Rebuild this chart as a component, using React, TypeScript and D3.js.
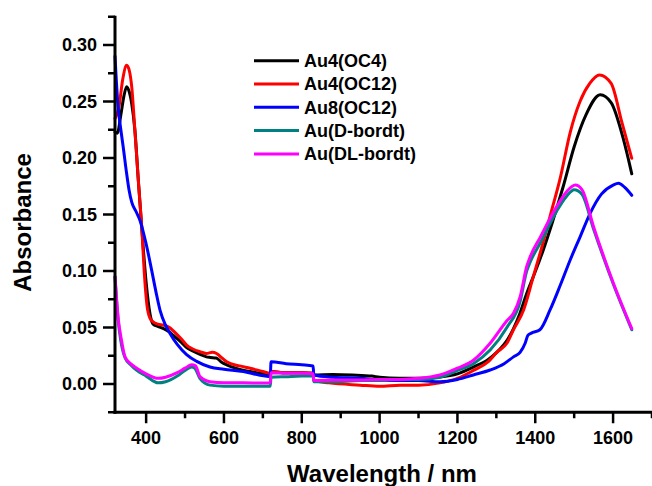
import React from "react";
import * as d3 from "d3";

const seriesNames = ["Au4(OC4)", "Au4(OC12)", "Au8(OC12)", "Au(D-bordt)", "Au(DL-bordt)"];
const seriesColors = ["#000000", "#ff0000", "#0000ff", "#008080", "#ff00ff"];

const xTicks = [400, 600, 800, 1000, 1200, 1400, 1600];
const yTicks = [0.0, 0.05, 0.1, 0.15, 0.2, 0.25, 0.3];

// Au4(OC4)
const blackW = [320, 326, 335, 343, 350, 357, 363, 371, 380, 389, 400, 410, 418, 430, 445, 460, 470, 490, 505, 521, 540, 555, 565, 580, 595, 607, 630, 667, 700, 719, 721, 760, 800, 829, 831, 880, 930, 980, 1000, 1050, 1100, 1150, 1200, 1241, 1280, 1301, 1330, 1344, 1360, 1378, 1395, 1420, 1443, 1472, 1500, 1530, 1567, 1595, 1627, 1648];
const blackV = [0.223, 0.222, 0.238, 0.255, 0.263, 0.258, 0.248, 0.225, 0.18, 0.137, 0.09, 0.062, 0.053, 0.051, 0.049, 0.046, 0.043, 0.037, 0.032, 0.029, 0.026, 0.024, 0.0235, 0.023, 0.019, 0.017, 0.014, 0.011, 0.009, 0.008, 0.011, 0.010, 0.010, 0.0095, 0.008, 0.0085, 0.008, 0.007, 0.006, 0.005, 0.005, 0.006, 0.009, 0.015, 0.022, 0.028, 0.04, 0.049, 0.062, 0.08, 0.095, 0.118, 0.142, 0.175, 0.21, 0.238, 0.256, 0.249, 0.216, 0.186];

// Au4(OC12)
const redW = [320, 330, 340, 350, 357, 363, 371, 380, 389, 395, 402, 410, 418, 430, 445, 460, 470, 490, 504, 520, 538, 555, 570, 581, 595, 607, 640, 667, 700, 719, 721, 760, 800, 829, 831, 870, 950, 1000, 1053, 1100, 1155, 1200, 1241, 1280, 1301, 1327, 1344, 1370, 1395, 1420, 1440, 1464, 1490, 1515, 1540, 1565, 1595, 1623, 1648];
const redV = [0.235, 0.245, 0.27, 0.282, 0.277, 0.263, 0.225, 0.18, 0.137, 0.1, 0.07, 0.058, 0.055, 0.053, 0.052, 0.05, 0.047, 0.04, 0.0345, 0.031, 0.0286, 0.027, 0.028, 0.027, 0.023, 0.0197, 0.016, 0.014, 0.011, 0.0095, 0.011, 0.010, 0.010, 0.0095, 0.003, 0.001, -0.001, -0.002, -0.001, -0.001, 0.001, 0.005, 0.012, 0.02, 0.028, 0.036, 0.048, 0.0655, 0.095, 0.125, 0.151, 0.182, 0.223, 0.25, 0.266, 0.2735, 0.266, 0.231, 0.1997];

// Au8(OC12)
const blueW = [320, 328, 335, 341, 350, 356, 363, 375, 384, 400, 414, 425, 436, 450, 461, 480, 504, 530, 564, 600, 650, 690, 719, 721, 760, 800, 829, 831, 880, 950, 1001, 1050, 1100, 1155, 1200, 1241, 1284, 1320, 1344, 1361, 1374, 1381, 1390, 1412, 1438, 1465, 1490, 1515, 1541, 1570, 1600, 1614, 1630, 1648];
const blueV = [0.29, 0.245, 0.225, 0.21, 0.186, 0.172, 0.161, 0.152, 0.145, 0.124, 0.101, 0.082, 0.065, 0.052, 0.045, 0.035, 0.026, 0.02, 0.015, 0.013, 0.011, 0.008, 0.0065, 0.0197, 0.018, 0.017, 0.016, 0.008, 0.006, 0.005, 0.0035, 0.003, 0.003, 0.002, 0.004, 0.008, 0.0124, 0.018, 0.024, 0.028, 0.036, 0.043, 0.045, 0.048, 0.0655, 0.088, 0.11, 0.13, 0.151, 0.168, 0.176, 0.1776, 0.174, 0.167];

// Au(D-bordt)
const tealW = [320, 324, 328, 335, 346, 360, 376, 400, 431, 450, 480, 500, 517, 525, 538, 564, 600, 650, 700, 719, 721, 760, 800, 829, 831, 880, 950, 1000, 1050, 1100, 1155, 1200, 1241, 1284, 1327, 1361, 1378, 1387, 1413, 1455, 1480, 1500, 1520, 1550, 1601, 1648];
const tealV = [0.095, 0.075, 0.057, 0.038, 0.023, 0.017, 0.012, 0.007, 0.001, 0.002, 0.007, 0.012, 0.015, 0.014, 0.005, -0.001, -0.002, -0.002, -0.002, -0.002, 0.006, 0.0065, 0.007, 0.007, 0.002, 0.002, 0.003, 0.003, 0.004, 0.004, 0.006, 0.012, 0.018, 0.03, 0.05, 0.073, 0.1, 0.108, 0.125, 0.153, 0.166, 0.172, 0.168, 0.137, 0.088, 0.048];

// Au(DL-bordt)
const magW = [320, 324, 328.6, 336, 345.7, 360, 375.8, 400, 431, 450, 480, 500, 517, 527, 538.5, 564, 600, 650, 700, 719, 721, 760, 800, 829, 831, 880, 950, 1000, 1050, 1100, 1155, 1200, 1241, 1284, 1327, 1344, 1361, 1378, 1387, 1413, 1455, 1480, 1503, 1520, 1550, 1601, 1648];
const magV = [0.095, 0.075, 0.057, 0.04, 0.024, 0.018, 0.014, 0.009, 0.005, 0.006, 0.01, 0.014, 0.017, 0.016, 0.0065, 0.002, 0.001, 0.001, 0.0008, 0.0008, 0.010, 0.0095, 0.0095, 0.009, 0.003, 0.0035, 0.0035, 0.004, 0.004, 0.005, 0.008, 0.014, 0.021, 0.036, 0.056, 0.0626, 0.077, 0.104, 0.1127, 0.13, 0.157, 0.17, 0.176, 0.172, 0.139, 0.089, 0.049];

const seriesW = [blackW, redW, blueW, tealW, magW];
const seriesV = [blackV, redV, blueV, tealV, magV];

const W = 652;
const H = 486;
const left = 115;
const right = 652;
const top = 16.75;
const bottom = 412.25;

export default function App() {
  const x = d3.scaleLinear().domain([320, 1700]).range([left, right]);
  const y = d3.scaleLinear().domain([-0.025, 0.325]).range([bottom, top]);
  const line = d3
    .line<[number, number]>()
    .x((d) => x(d[0]))
    .y((d) => y(d[1]))
    .curve(d3.curveMonotoneX);

  const font = "Arial, 'Liberation Sans', sans-serif";
  const xMinor = d3.range(500, 1701, 200);
  const yMinor = d3.range(-0.025, 0.326, 0.05);

  return (
    <svg width={W} height={H} style={{ position: "absolute", left: 0, top: 0, background: "#fff" }}>
      <rect x={0} y={0} width={W} height={H} fill="#fff" />
      <g fill="none" strokeLinejoin="round" strokeLinecap="round">
        {seriesW.map((ws, i) => (
          <path
            key={i}
            d={line(ws.map((w, j) => [w, seriesV[i][j]] as [number, number])) || ""}
            stroke={seriesColors[i]}
            strokeWidth={3}
          />
        ))}
      </g>
      {/* axes */}
      <line x1={left} x2={left} y1={top - 1} y2={bottom + 1.5} stroke="#000" strokeWidth={3} />
      <line x1={left - 1.5} x2={right} y1={bottom} y2={bottom} stroke="#000" strokeWidth={3} />
      {yTicks.map((t) => (
        <g key={t}>
          <line x1={left - 12} x2={left} y1={y(t)} y2={y(t)} stroke="#000" strokeWidth={2.5} />
          <text x={left - 18} y={y(t)} dy="0.35em" textAnchor="end" fontFamily={font} fontWeight="bold" fontSize={18}>
            {t.toFixed(2)}
          </text>
        </g>
      ))}
      {yMinor.map((t) => (
        <line key={t} x1={left - 7} x2={left} y1={y(t)} y2={y(t)} stroke="#000" strokeWidth={2.5} />
      ))}
      {xTicks.map((t) => (
        <g key={t}>
          <line x1={x(t)} x2={x(t)} y1={bottom} y2={bottom + 11} stroke="#000" strokeWidth={2.5} />
          <text x={x(t)} y={444} textAnchor="middle" fontFamily={font} fontWeight="bold" fontSize={18}>
            {t}
          </text>
        </g>
      ))}
      {xMinor.map((t) => (
        <line key={t} x1={x(t)} x2={x(t)} y1={bottom} y2={bottom + 6} stroke="#000" strokeWidth={2.5} />
      ))}
      <text x={382} y={482} textAnchor="middle" fontFamily={font} fontWeight="bold" fontSize={24}>
        Wavelength / nm
      </text>
      <text
        transform="translate(31,222.5) rotate(-90)"
        textAnchor="middle"
        fontFamily={font}
        fontWeight="bold"
        fontSize={24}
      >
        Absorbance
      </text>
      {/* legend */}
      {seriesNames.map((n, i) => {
        const ly = 60.7 + i * 23.3;
        return (
          <g key={n}>
            <line x1={254} x2={299} y1={ly} y2={ly} stroke={seriesColors[i]} strokeWidth={3} />
            <text x={304} y={ly} dy="0.36em" fontFamily={font} fontWeight="bold" fontSize={18}>
              {n}
            </text>
          </g>
        );
      })}
    </svg>
  );
}
